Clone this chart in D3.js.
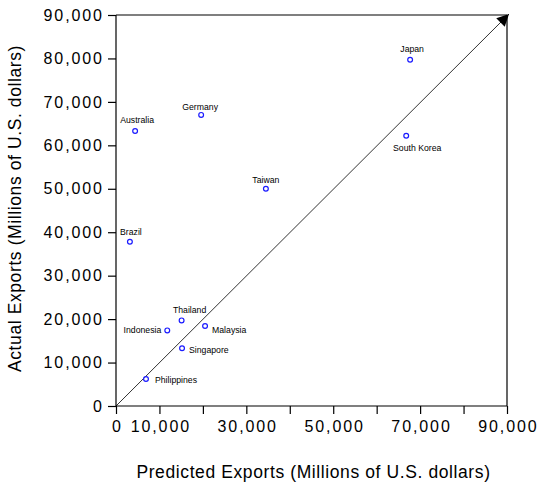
<!DOCTYPE html>
<html lang="en">
<head>
    <meta charset="UTF-8">
    <title>exports scatter</title>
    <script src="https://d3js.org/d3.v7.min.js"></script>
</head>
<style>
    * { margin:0; padding:0; }
    body { background: #fff; }
    svg { display: block; }
    svg text { font-family: "Liberation Sans", Arial, sans-serif; fill: #000; }
    .tick line, .domain { stroke: #000; stroke-width: 1.2; }
</style>
<body>
<script>
    // data (millions of US dollars)
    var countries = ["Japan", "South Korea", "Australia", "Germany", "Taiwan", "Brazil",
                     "Thailand", "Indonesia", "Malaysia", "Singapore", "Philippines"];
    var predicted = [67700, 66800, 4400, 19600, 34500, 3200, 15100, 11800, 20500, 15200, 6900];
    var actual    = [79700, 62200, 63300, 67000, 50000, 37800, 19700, 17400, 18400, 13300, 6200];

    var xTicks = [0, 10000, 20000, 30000, 40000, 50000, 60000, 70000, 80000, 90000];
    var xTickLabels = [0, 10000, 30000, 50000, 70000, 90000];
    var yTicks = [0, 10000, 20000, 30000, 40000, 50000, 60000, 70000, 80000, 90000];

    // where each country name sits next to its point
    var labelPlace = {
        "Japan":       {anchor: "middle", dx: 2,  dy: -8},
        "South Korea": {anchor: "middle", dx: 11, dy: 15},
        "Australia":   {anchor: "middle", dx: 2,  dy: -8},
        "Germany":     {anchor: "middle", dx: -1, dy: -5},
        "Taiwan":      {anchor: "middle", dx: 0,  dy: -6},
        "Brazil":      {anchor: "middle", dx: 1,  dy: -7},
        "Thailand":    {anchor: "middle", dx: 8,  dy: -7},
        "Indonesia":   {anchor: "end",    dx: -6, dy: 3},
        "Malaysia":    {anchor: "start",  dx: 7,  dy: 7},
        "Singapore":   {anchor: "start",  dx: 7,  dy: 5},
        "Philippines": {anchor: "start",  dx: 9,  dy: 4}
    };

    var width = 540, height = 490;
    var mLeft = 116, mRight = 507, mTop = 15, mBottom = 406;

    var x = d3.scaleLinear().domain([0, 90000]).range([mLeft, mRight]);
    var y = d3.scaleLinear().domain([0, 90000]).range([mBottom, mTop]);
    var fmt = d3.format(",");

    var svg = d3.select("body").append("svg")
        .attr("width", width)
        .attr("height", height);

    svg.append("defs").append("marker")
        .attr("id", "head")
        .attr("viewBox", "0 0 10 10")
        .attr("refX", 10).attr("refY", 5)
        .attr("markerWidth", 15).attr("markerHeight", 12)
        .attr("markerUnits", "userSpaceOnUse")
        .attr("orient", "auto")
        .append("path")
        .attr("d", "M0,0L10,5L0,10z")
        .attr("fill", "#000");

    // box top / right
    svg.append("line")
        .attr("x1", x(0)).attr("y1", y(90000)).attr("x2", x(90000)).attr("y2", y(90000))
        .attr("stroke", "#000").attr("stroke-width", 1.2);
    svg.append("line")
        .attr("x1", x(90000)).attr("y1", y(90000)).attr("x2", x(90000)).attr("y2", y(0))
        .attr("stroke", "#000").attr("stroke-width", 1.2);

    // 45 degree line
    svg.append("line")
        .attr("x1", x(0)).attr("y1", y(0))
        .attr("x2", x(90000) + 2).attr("y2", y(90000) - 1)
        .attr("stroke", "#333").attr("stroke-width", 1)
        .attr("marker-end", "url(#head)");

    var xAxis = svg.append("g")
        .attr("transform", "translate(0," + mBottom + ")")
        .call(d3.axisBottom(x).tickValues(xTicks).tickSize(8).tickPadding(7)
            .tickFormat(function(d) { return xTickLabels.indexOf(d) >= 0 ? fmt(d) : ""; }));

    var yAxis = svg.append("g")
        .attr("transform", "translate(" + mLeft + ",0)")
        .call(d3.axisLeft(y).tickValues(yTicks).tickSize(8).tickPadding(6).tickFormat(fmt));

    svg.selectAll(".tick text")
        .style("font-size", "16px")
        .style("letter-spacing", "1.9px");
    xAxis.selectAll(".tick text").attr("dx", "0.9px");
    yAxis.selectAll(".tick text").attr("dx", "1.9px");
    xAxis.select(".domain").attr("d", "M" + mLeft + ",0H" + mRight);
    yAxis.select(".domain").attr("d", "M0," + mBottom + "V" + mTop);

    // points
    svg.selectAll("circle.pt")
        .data(countries)
        .enter()
        .append("circle")
        .attr("class", "pt")
        .attr("cx", function(d, i) { return x(predicted[i]); })
        .attr("cy", function(d, i) { return y(actual[i]); })
        .attr("r", 2.4)
        .attr("fill", "none")
        .attr("stroke", "#1a1aff")
        .attr("stroke-width", 1.2);

    svg.selectAll("text.lbl")
        .data(countries)
        .enter()
        .append("text")
        .attr("class", "lbl")
        .style("font-size", "8.7px")
        .attr("x", function(d, i) { return x(predicted[i]) + labelPlace[d].dx; })
        .attr("y", function(d, i) { return y(actual[i]) + labelPlace[d].dy; })
        .attr("text-anchor", function(d) { return labelPlace[d].anchor; })
        .text(function(d) { return d; });

    // axis titles
    svg.append("text")
        .attr("x", (mLeft + mRight) / 2 + 2)
        .attr("y", 478)
        .attr("text-anchor", "middle")
        .style("font-size", "17.5px")
        .style("letter-spacing", "0.6px")
        .text("Predicted Exports (Millions of U.S. dollars)");

    svg.append("text")
        .attr("transform", "translate(21," + ((mTop + mBottom) / 2 - 2) + ") rotate(-90)")
        .attr("text-anchor", "middle")
        .style("font-size", "17.5px")
        .style("letter-spacing", "0.6px")
        .text("Actual Exports (Millions of U.S. dollars)");
</script>
</body>
</html>
